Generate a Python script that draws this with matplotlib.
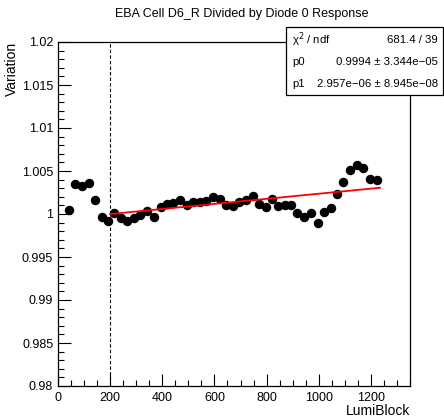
import numpy as np
import matplotlib
matplotlib.use("Agg")
from matplotlib import pyplot as plt
from matplotlib.ticker import MultipleLocator, FuncFormatter

plt.rcParams['font.family'] = ['Liberation Sans', 'DejaVu Sans']

#Data
lumiblock = [43, 66, 92, 117, 141, 168, 193, 215, 241, 263, 292, 315, 343, 368, 394,
             417, 442, 467, 493, 518, 544, 569, 595, 620, 645, 670, 695, 721, 746, 772,
             797, 820, 843, 869, 894, 917, 945, 970, 996, 1021, 1047, 1070, 1093, 1120,
             1145, 1171, 1196, 1222]
variation = [1.0005, 1.00345, 1.00326, 1.00357, 1.0016, 0.9997, 0.99922, 1.0001, 0.9995,
             0.9992, 0.9995, 0.9999, 1.0004, 0.9997, 1.0008, 1.0012, 1.00124, 1.0016,
             1.0010, 1.00136, 1.0014, 1.00155, 1.0020, 1.0017, 1.0011, 1.00097, 1.0014,
             1.0016, 1.0021, 1.0012, 1.00085, 1.0018, 1.00097, 1.0011, 1.00105, 1.0001,
             0.9997, 1.0001, 0.9990, 1.0002, 1.0007, 1.0023, 1.00376, 1.0051, 1.0057,
             1.0054, 1.0041, 1.0040]
errors = [0.00025] * len(lumiblock)

#Fit parameters
p0 = 0.9994
p1 = 2.957e-06
fit_range = [200, 1235]

fig = plt.figure(figsize=(4.44, 4.17), dpi=100)
ax = fig.add_axes([58/444, 31/417, 352/444, 344/417])

ax.errorbar(lumiblock, variation, yerr=errors, fmt='o', color='black', ms=5.8,
            elinewidth=0.8, capsize=0, zorder=3)

fx = np.array(fit_range, dtype=float)
ax.plot(fx, p0 + p1 * fx, color='red', lw=1.3, zorder=4)

ax.axvline(200, color='black', ls=(0, (3, 2)), lw=0.8)

ax.set_xlim(0, 1350)
ax.set_ylim(0.98, 1.02)
ax.xaxis.set_major_locator(MultipleLocator(200))
ax.xaxis.set_minor_locator(MultipleLocator(50))
ax.yaxis.set_major_locator(MultipleLocator(0.005))
ax.yaxis.set_minor_locator(MultipleLocator(0.001))
ax.yaxis.set_major_formatter(FuncFormatter(lambda v, p: ('%.3f' % v).rstrip('0').rstrip('.')))
ax.tick_params(which='both', direction='in', top=False, right=False, labelsize=9)
ax.tick_params(which='major', length=9, width=0.8)
ax.tick_params(which='minor', length=4.5, width=0.8)
ax.tick_params(axis='x', pad=4)
for s in ax.spines.values():
    s.set_linewidth(0.9)

ax.set_xlabel("LumiBlock", fontsize=10, loc='right', labelpad=0)
ax.set_ylabel("Variation", fontsize=10, loc='top', labelpad=2)

fig.text(242/444, 0.966, "EBA Cell D6_R Divided by Diode 0 Response", ha='center', va='center', fontsize=9)

#Stats box
bx0, by0, bw, bh = 286/444, 322/417, 157/444, 68/417
box = plt.Rectangle((bx0, by0), bw, bh, transform=fig.transFigure, fill=True,
                    facecolor='white', edgecolor='black', lw=0.9, zorder=10)
fig.add_artist(box)
rows = [("\u03c7$^2$ / ndf", "681.4 / 39"),
        ("p0", "0.9994 \u00b1 3.344e\u221205"),
        ("p1", "2.957e\u221206 \u00b1 8.945e\u221208")]
for i, (left, right) in enumerate(rows):
    yy = (377 - i * 22) / 417
    fig.text(292/444, yy, left, fontsize=8.2, va='center', ha='left', zorder=11)
    fig.text(438/444, yy, right, fontsize=8.2, va='center', ha='right', zorder=11)

plt.savefig("out.png", dpi=100)
